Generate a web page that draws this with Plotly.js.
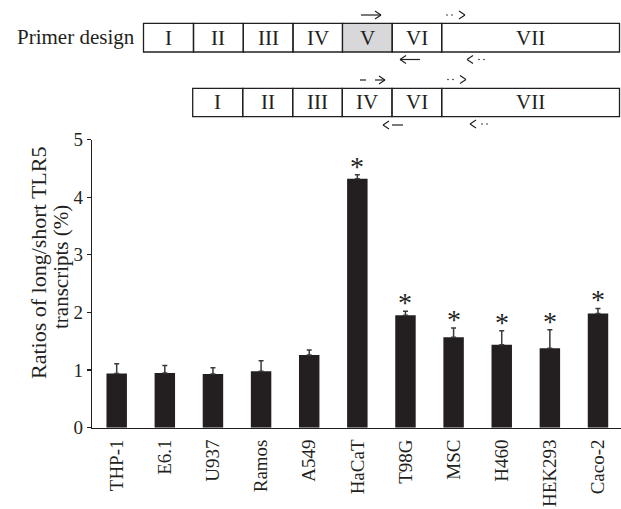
<!DOCTYPE html>
<html>
<head>
<meta charset="utf-8">
<script src="https://cdn.plot.ly/plotly-3.0.1.min.js"></script>
<style>html,body{margin:0;padding:0;background:#fff;}#chart{width:621px;height:509px;}</style>
</head>
<body>
<div id="chart"></div>
<script>
// ---- data ----
const categories = ['THP-1', 'E6.1', 'U937', 'Ramos', 'A549', 'HaCaT', 'T98G', 'MSC', 'H460', 'HEK293', 'Caco-2'];
const ratios = [0.94, 0.95, 0.93, 0.98, 1.26, 4.32, 1.95, 1.57, 1.44, 1.38, 1.98];
const errors = [0.17, 0.13, 0.11, 0.18, 0.09, 0.07, 0.07, 0.16, 0.24, 0.32, 0.09];
const significant = [false, false, false, false, false, true, true, true, true, true, true];
const yTicks = [0, 1, 2, 3, 4, 5];
const exonsLong = ['I', 'II', 'III', 'IV', 'V', 'VI', 'VII'];
const exonsShort = ['I', 'II', 'III', 'IV', 'VI', 'VII'];
const highlightedExon = 'V';

// ---- layout helpers (pixel -> paper) ----
const W = 621, H = 509;
const px = x => x / W;
const py = y => 1 - y / H;
const INK = '#231f20';
const FONT = '"Liberation Serif", "Times New Roman", serif';

const shapes = [];
const annotations = [];

function exonRow(labels, edges, top, bottom) {
  labels.forEach((lab, i) => {
    shapes.push({type: 'rect', xref: 'paper', yref: 'paper',
      x0: px(edges[i]), x1: px(edges[i + 1]), y0: py(bottom), y1: py(top),
      line: {color: INK, width: 1.3},
      fillcolor: lab === highlightedExon ? '#d8d8da' : 'rgba(0,0,0,0)'});
    annotations.push({xref: 'paper', yref: 'paper', x: px((edges[i] + edges[i + 1]) / 2),
      y: py((top + bottom) / 2), text: lab, showarrow: false,
      xanchor: 'center', yanchor: 'middle', font: {family: FONT, size: 21, color: INK}});
  });
}
exonRow(exonsLong, [143.5, 193.5, 243.3, 293, 342.5, 392.2, 441.7, 619.5], 23.3, 52);
exonRow(exonsShort, [192.7, 242.7, 292.7, 342.3, 392, 441.7, 619.5], 88.3, 116.7);

function seg(x0, y0, x1, y1) {
  shapes.push({type: 'line', xref: 'paper', yref: 'paper', x0: px(x0), y0: py(y0), x1: px(x1), y1: py(y1),
    line: {color: INK, width: 1.2}});
}
function head(x, y, dir) { // dir = +1 right, -1 left
  seg(x - dir * 6, y - 4, x, y);
  seg(x, y, x - dir * 6, y + 4);
}
function dot(x, y) {
  shapes.push({type: 'circle', xref: 'paper', yref: 'paper', x0: px(x - 0.8), x1: px(x + 0.8), y0: py(y + 0.8), y1: py(y - 0.8),
    fillcolor: INK, line: {width: 0}});
}
// row 1 primers
seg(361, 15, 381, 15); head(381, 15, 1);
seg(400, 59.5, 420, 59.5); head(400, 59.5, -1);
dot(447, 15); dot(452, 15); head(465, 15, 1);
head(467, 59.5, -1); dot(479, 59.5); dot(484, 59.5);
// row 2 primers
seg(360, 80, 366, 80); seg(375, 80, 385, 80); head(385, 80, 1);
head(383, 125, -1); seg(392, 125, 403, 125);
dot(448, 79.5); dot(453, 79.5); head(466, 79.5, 1);
head(470, 124, -1); dot(482, 124); dot(487, 124);

annotations.push({xref: 'paper', yref: 'paper', x: px(137), y: py(37.5), text: 'Primer design',
  showarrow: false, xanchor: 'right', yanchor: 'middle', font: {family: FONT, size: 21, color: INK}});

// y axis title (two lines)
annotations.push({xref: 'paper', yref: 'paper', x: px(38), y: py(263), text: 'Ratios of long/short TLR5',
  showarrow: false, textangle: -90, xanchor: 'center', yanchor: 'middle', font: {family: FONT, size: 22, color: INK}});
annotations.push({xref: 'paper', yref: 'paper', x: px(61), y: py(267), text: 'transcripts (%)',
  showarrow: false, textangle: -90, xanchor: 'center', yanchor: 'middle', font: {family: FONT, size: 21, color: INK}});

// significance stars
categories.forEach((c, i) => {
  if (significant[i]) {
    annotations.push({xref: 'x', yref: 'y', x: c, y: ratios[i] + errors[i], text: '*', showarrow: false,
      xanchor: 'center', yanchor: 'bottom', yshift: -9, font: {family: FONT, size: 28, color: INK}});
  }
});

const trace = {
  type: 'bar', x: categories, y: ratios,
  marker: {color: INK, line: {width: 0}},
  error_y: {type: 'data', array: errors, arrayminus: errors.map(() => 0), symmetric: false,
    visible: true, color: '#3a3a3a', thickness: 1.5, width: 2.5},
  hoverinfo: 'skip'
};

const layout = {
  width: W, height: H,
  margin: {l: 0, r: 0, t: 0, b: 0},
  paper_bgcolor: '#fff', plot_bgcolor: '#fff',
  showlegend: false,
  bargap: 0.575,
  font: {family: FONT, color: INK, size: 19},
  xaxis: {domain: [px(92), 1], range: [-0.513, 10.478], type: 'category',
    showline: true, linecolor: INK, linewidth: 1.2, ticks: '', showgrid: false, zeroline: false,
    tickangle: -90, ticklabelstandoff: 3, tickfont: {family: FONT, size: 19, color: INK}},
  yaxis: {domain: [py(427.7), py(139.5)], range: [0, 5], tickvals: yTicks, ticktext: yTicks.map(String),
    showline: true, linecolor: INK, linewidth: 1.2, ticks: 'outside', ticklen: 4, tickcolor: INK, tickwidth: 1.2,
    showgrid: false, zeroline: false, tickfont: {family: FONT, size: 19, color: INK}},
  shapes: shapes,
  annotations: annotations
};

Plotly.newPlot('chart', [trace], layout, {displayModeBar: false, staticPlot: true});
</script>
</body>
</html>
